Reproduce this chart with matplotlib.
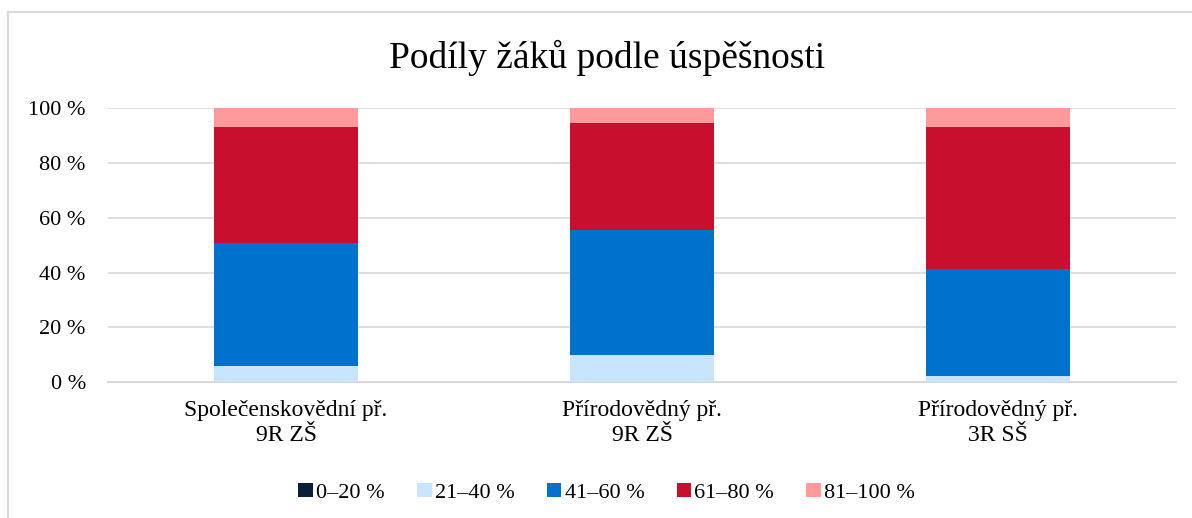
import matplotlib.pyplot as plt
from matplotlib.lines import Line2D

# data (percent of pupils in each success band)
categories = ["Společenskovědní př.\n9R ZŠ", "Přírodovědný př.\n9R ZŠ", "Přírodovědný př.\n3R SŠ"]
bands = ["0–20 %", "21–40 %", "41–60 %", "61–80 %", "81–100 %"]
p0_20 = [0.0, 0.0, 0.0]
p21_40 = [6.1, 10.1, 2.4]
p41_60 = [44.9, 45.4, 39.0]
p61_80 = [42.2, 39.1, 51.6]
p81_100 = [6.8, 5.4, 7.0]
series = [p0_20, p21_40, p41_60, p61_80, p81_100]
colors = ["#0B1F3A", "#C9E5FD", "#0072CE", "#C8102E", "#FF9A9A"]

plt.rcParams['font.family'] = ['Liberation Serif', 'DejaVu Serif']

fig = plt.figure(figsize=(11.92, 5.18), dpi=100)
ax = fig.add_axes([0.0906, 0.262, 0.896, 0.529])

x = range(len(categories))
bottom = [0.0] * len(categories)
for name, vals, c in zip(bands, series, colors):
    ax.bar(x, vals, 0.404, bottom=bottom, color=c, label=name, zorder=3)
    bottom = [b + v for b, v in zip(bottom, vals)]

ax.set_xlim(-0.5, 2.5)
ax.set_ylim(0, 100)
ax.set_yticks([0, 20, 40, 60, 80, 100])
ax.set_yticklabels(["0 %", "20 %", "40 %", "60 %", "80 %", "100 %"], fontsize=16)
ax.set_xticks(list(x))
ax.set_xticklabels(categories, fontsize=17, linespacing=1.25)
ax.tick_params(axis='both', length=0)
ax.tick_params(axis='y', pad=16)
ax.tick_params(axis='x', pad=13)
ax.grid(axis='y', color='#D9D9D9', linewidth=1.2, zorder=0)
for s in ['top', 'right', 'left']:
    ax.spines[s].set_visible(False)
ax.spines['bottom'].set_color('#D9D9D9')
ax.spines['bottom'].set_linewidth(1.5)

fig.suptitle("Podíly žáků podle úspěšnosti", fontsize=27, x=0.509, y=0.888, va='center')

fig.legend(loc='center', bbox_to_anchor=(0.509, 0.049), ncol=5, frameon=False,
           fontsize=16, handlelength=0.65, handleheight=0.65, handletextpad=0.15,
           columnspacing=1.45)

# chart border
fig.add_artist(Line2D([0.0071, 0.0071], [0, 0.976], color='#D9D9D9', lw=1.5))
fig.add_artist(Line2D([0.0071, 1], [0.976, 0.976], color='#D9D9D9', lw=1.5))

fig.savefig("out.png", dpi=100)
